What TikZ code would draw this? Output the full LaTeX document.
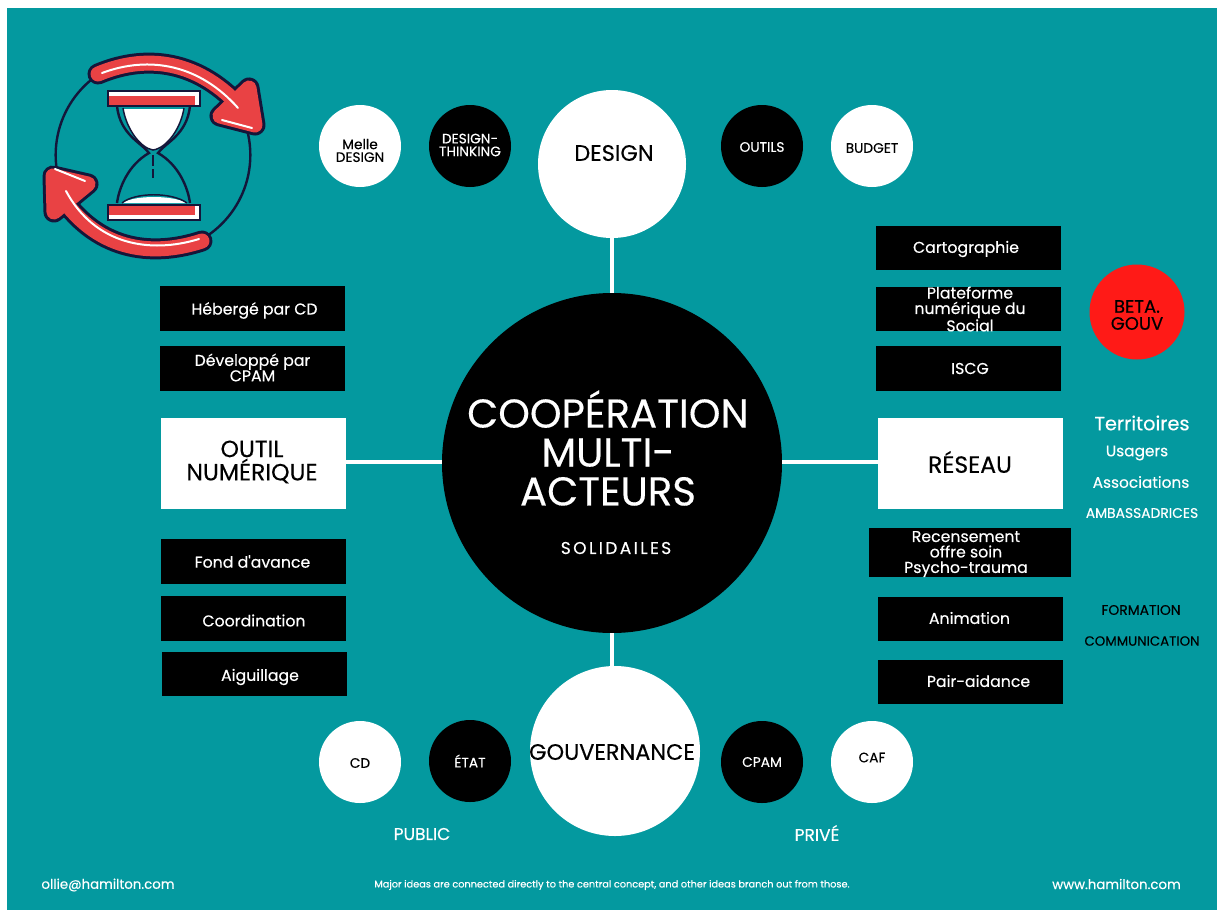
\documentclass[tikz,border=0pt]{standalone}
\usepackage{fontspec}
\setmainfont[FakeBold=0.3]{Poppins}
\definecolor{tealbg}{HTML}{04999F}
\definecolor{hotred}{HTML}{FF1A17}
\definecolor{arrowred}{HTML}{E94244}
\definecolor{inkblue}{HTML}{14163A}
\newcommand{\fs}[2]{\fontsize{#1}{#2}\selectfont}
\tikzset{
  bigdisc/.style={circle,fill=white,inner sep=0pt},
  smallwhite/.style={circle,fill=white,minimum size=61.5pt,inner sep=0pt},
  smallblack/.style={circle,fill=black,minimum size=61.5pt,inner sep=0pt},
  smalltext/.style={inner sep=0pt,align=center,font=\fs{10.3}{9.6}},
  blackbox/.style={fill=black,minimum width=138.75pt,minimum height=33.4pt,inner sep=0pt},
  boxtext/.style={text=white,inner sep=0pt,align=center,font=\fs{11.8}{11.6}},
  whitebox/.style={fill=white,minimum width=138.75pt,minimum height=68.25pt,inner sep=0pt},
  bigtext/.style={text=black,inner sep=0pt,align=center,font=\fs{17.6}{16}},
  side/.style={text=white,inner sep=0pt,font=\fs{11.5}{12}},
  link/.style={draw=white,line width=2.8pt},
  inkline/.style={draw=inkblue,line width=1.8pt},
}
\begin{document}
\begin{tikzpicture}[x=0.75pt,y=-0.75pt]
\useasboundingbox (0,0) rectangle (1217,911);
\fill[white] (0,0) rectangle (1217,911);
\fill[tealbg] (7,8) rectangle (1217,910);

% hourglass
\draw[inkline] (153,155) circle[radius=73pt];
\fill[white] (123,109) .. controls (126,128) and (140,148) .. (153,150)
  .. controls (167,148) and (181,128) .. (184,109) -- cycle;
\fill[white] (122,203) .. controls (135,195) and (172,195) .. (187,203) -- cycle;
\draw[inkline] (117,106) .. controls (120,135) and (142,143) .. (149,153)
  .. controls (128,165) and (119,188) .. (117,203);
\draw[inkline] (190,106) .. controls (187,135) and (165,143) .. (158,153)
  .. controls (179,165) and (188,188) .. (190,203);
\draw[inkline,line width=1.1pt] (123,108) .. controls (126,128) and (140,148) .. (153,150)
  .. controls (167,148) and (181,128) .. (184,108);
\draw[inkline,line width=1.1pt] (122,203) .. controls (135,192) and (172,192) .. (187,203);
\draw[inkline] (153,155) -- (153,166) (153,169) -- (153,178);
\filldraw[fill=white,inkline] (108,91) rectangle (200,106);
\fill[arrowred] (109,96) rectangle (195,105);
\filldraw[fill=white,inkline] (108,205) rectangle (200,220);
\fill[arrowred] (109,206) rectangle (195,215);

% turning arrows
\foreach \Ink/\Wide in {inkblue/15.75pt,arrowred/11.25pt}{
  \draw[\Ink,line width=\Wide,line cap=round,line join=round]
    (98,74) .. controls (150,52) and (205,62) .. (248,116);
  \draw[\Ink,line width=\Wide,line cap=round,line join=round,fill=\Ink]
    (249,88) -- (255,125) -- (220,116) -- cycle;
  \draw[\Ink,line width=\Wide,line cap=round,line join=round]
    (202,241) .. controls (150,258) and (95,250) .. (58,192);
  \draw[\Ink,line width=\Wide,line cap=round,line join=round,fill=\Ink]
    (54,212) -- (53,176) -- (88,184) -- cycle;
}
\draw[white,line width=1.5pt,line cap=round] (102,73) .. controls (150,55) and (200,65) .. (238,108);
\draw[white,line width=1.5pt,line cap=round] (222,120) -- (252,128);
\draw[white,line width=1.5pt,line cap=round] (199,239) .. controls (150,254) and (95,245) .. (66,191);
\draw[white,line width=1.5pt,line cap=round] (55,169) -- (85,181);

% discs
\node[circle,fill=black,minimum size=255pt,inner sep=0pt] (hub) at (612,463) {};
\node[bigdisc,minimum size=111pt] (design) at (612,164) {};
\node[bigdisc,minimum size=127.5pt] (gouv) at (615,751) {};
\node[whitebox] (outil) at (253.5,463.5) {};
\node[whitebox] (reseau) at (970.5,463.5) {};

% links
\draw[link] (hub.north) -- (hub.north |- design.south);
\draw[link] (hub.south) -- (hub.south |- gouv.north);
\draw[link] ([yshift=0.75pt]hub.west) -- ([yshift=0.75pt]hub.west -| outil.east);
\draw[link] ([yshift=0.75pt]hub.east) -- ([yshift=0.75pt]hub.east -| reseau.west);

\node[bigtext,font=\fs{16.8}{16}] (designtxt) at (614,153) {DESIGN};
\node[bigtext,font=\fs{16.8}{16}] (gouvtxt) at (612,752) {GOUVERNANCE};
\node[bigtext] (outiltxt) at (252,462) {OUTIL\\NUMÉRIQUE};
\node[bigtext] (reseautxt) at (970,462) {RÉSEAU};
\node[text=white,align=center,inner sep=0pt,font=\fs{30.2}{29.2}] (hubtxt) at (608,448) {COOPÉRATION\\MULTI-\\ACTEURS};
\node[text=white,inner sep=0pt,font=\fs{12.8}{13}\addfontfeatures{LetterSpace=14}] (solid) at (616,548) {SOLIDAILES};

\foreach \Name/\Point/\Dy/\Label in {melle/{(360,146)}/4.5/{Melle\\DESIGN}, budget/{(872,146)}/2/BUDGET,
    cd/{(360,762)}/1/CD, caf/{(872,762)}/-4.5/CAF}{
  \node[smallwhite] (\Name) at \Point {};
  \path \Point ++(0,\Dy) node[smalltext,text=black] (\Name-txt) {\Label};
}
\foreach \Name/\Point/\Dy/\Label in {thinking/{(470,146)}/-1/{DESIGN-\\THINKING}, outils/{(762,146)}/1/OUTILS,
    etat/{(470,761)}/0/ÉTAT, cpam/{(762,762)}/0/CPAM}{
  \node[smallblack] (\Name) at \Point {};
  \path \Point ++(0,\Dy) node[smalltext,text=white] (\Name-txt) {\Label};
}
\node[circle,fill=hotred,minimum size=71.25pt,inner sep=0pt] (beta) at (1137,312) {};
\node[text=black,inner sep=0pt,align=center,font=\fs{13.5}{12.75}] (betatxt) at (1137,315) {BETA.\\GOUV};

\foreach \Name/\Point/\Dx/\Dy/\Label in {heberge/{(252.5,308.5)}/2/2/{Hébergé par CD},
    develop/{(252.5,368.5)}/0/-1/{Développé par\\CPAM},
    fond/{(253.5,561.5)}/-1/0/{Fond d\textquotesingle avance},
    coord/{(253.5,618.5)}/0.5/2/{Coordination},
    aiguil/{(254.5,674)}/5.5/3/{Aiguillage},
    carto/{(968.5,248)}/-2.5/1/{Cartographie},
    plate/{(968.5,309)}/1.5/0/{Plateforme\\numérique du\\Social},
    iscg/{(968.5,368.5)}/1.5/0/{ISCG},
    anim/{(970.5,619)}/-1/-1/{Animation},
    pair/{(970.5,682)}/8/-1/{Pair-aidance}}{
  \node[blackbox] (\Name) at \Point {};
  \path \Point ++(\Dx,\Dy) node[boxtext] (\Name-txt) {\Label};
}
\node[blackbox,minimum width=151.5pt,minimum height=36.75pt] (recens) at (970,552.5) {};
\node[boxtext] (recens-txt) at (966,554) {Recensement\\offre soin\\Psycho-trauma};

\node[side,font=\fs{14.5}{15}] (terr) at (1142,423) {Territoires};
\node[side] (usag) at (1137,453) {Usagers};
\node[side] (assoc) at (1141,482) {Associations};
\node[side,font=\fs{10.4}{10}] (amba) at (1142,513) {AMBASSADRICES};
\node[side,text=black,font=\fs{10.4}{10}] (forma) at (1141,610) {FORMATION};
\node[side,text=black,font=\fs{10}{10}] (commu) at (1142,641) {COMMUNICATION};
\node[side,font=\fs{12.8}{13}] (public) at (422,834) {PUBLIC};
\node[side,font=\fs{12.8}{13}] (prive) at (817,833) {PRIVÉ};
\node[side,font=\fs{10}{10}] (mail) at (108,885) {ollie@hamilton.com};
\node[side,font=\fs{7.3}{7}] (foot) at (612,885) {Major ideas are connected directly to the central concept, and other ideas branch out from those.};
\node[side,font=\fs{10}{10}] (web) at (1116.5,884) {www.hamilton.com};
\end{tikzpicture}
\end{document}
